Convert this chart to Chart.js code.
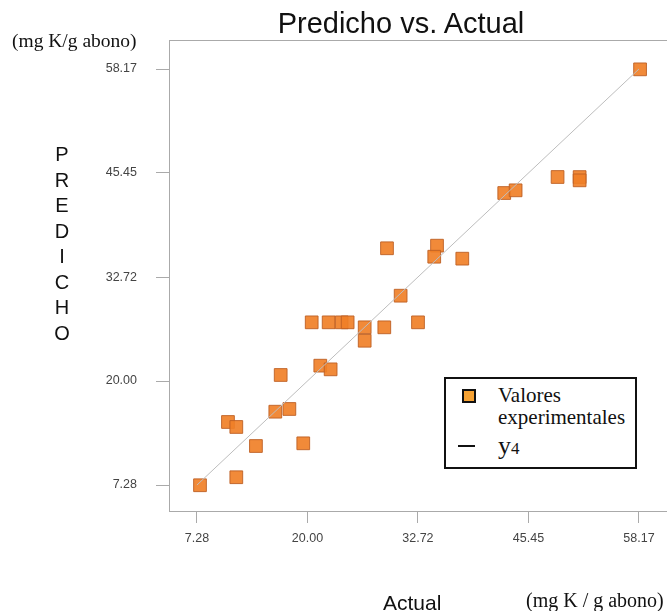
<!DOCTYPE html>
<html>
<head>
<meta charset="utf-8">
<script src="https://cdn.jsdelivr.net/npm/chart.js@4"></script>
<style>
  body { margin: 0; background: #fff; }
  #wrap { position: relative; width: 667px; height: 611px; overflow: hidden; }
  #myChart { position: absolute; left: 0; top: 0; }
  .lbl { position: absolute; white-space: nowrap; color: #111; }
  .sans { font-family: "Liberation Sans", Arial, sans-serif; }
  .serif { font-family: "Liberation Serif", "Times New Roman", serif; }
  #legend { position: absolute; left: 444px; top: 377px; width: 189px; height: 88px;
    border: 2px solid #111; background: #fff; }
</style>
</head>
<body>
<div id="wrap">
  <canvas id="myChart" width="667" height="611"></canvas>
  <div class="lbl sans" style="left:250px;top:7px;width:302px;text-align:center;font-size:29px;">Predicho vs. Actual</div>
  <div class="lbl serif" style="left:12px;top:30px;font-size:19.5px;">(mg K/g abono)</div>
  <div class="lbl sans" style="left:47px;top:142px;width:30px;text-align:center;font-size:20px;line-height:25.5px;white-space:normal;">P<br>R<br>E<br>D<br>I<br>C<br>H<br>O</div>
  <div class="lbl sans" style="left:383px;top:591px;font-size:21px;">Actual</div>
  <div class="lbl serif" style="left:526px;top:589px;font-size:20px;">(mg K / g abono)</div>
  <div id="legend">
    <div style="position:absolute;left:16px;top:10px;width:10px;height:10px;background:#f6a233;border:2px solid #111;"></div>
    <div class="lbl serif" style="left:52px;top:5px;font-size:21px;line-height:22px;">Valores<br>experimentales</div>
    <div style="position:absolute;left:12px;top:66px;width:17px;height:2px;background:#111;"></div>
    <div class="lbl serif" style="left:52px;top:52px;font-size:26px;">y<span style="font-size:17px;">4</span></div>
  </div>
</div>
<script>
// values
const actualVals = [58.30, 48.80, 51.34, 51.34, 42.66, 43.97, 29.16, 34.92, 34.60, 37.83,
  30.73, 20.49, 22.44, 23.94, 24.63, 26.59, 28.85, 32.73, 26.59, 21.48,
  22.67, 16.92, 16.30, 17.92, 10.85, 11.81, 14.07, 19.52, 11.81, 7.63];
const predichoVals = [58.13, 44.96, 44.95, 44.55, 43.00, 43.33, 36.24, 36.56, 35.21, 34.97,
  30.44, 27.18, 27.18, 27.18, 27.18, 26.57, 26.57, 27.18, 24.93, 21.88,
  21.43, 20.74, 16.25, 16.58, 14.99, 14.38, 12.05, 12.38, 8.23, 7.25];
const tickVals = [7.28, 20.00, 32.72, 45.45, 58.17];
const lineVals = [7.28, 58.17];

const points = actualVals.map((x, i) => ({ x: x, y: predichoVals[i] }));
const linePts = lineVals.map(v => ({ x: v, y: v }));

// frame line on top of the plot area
const topBorder = {
  id: "topBorder",
  afterDraw(chart) {
    const a = chart.chartArea;
    const c = chart.ctx;
    c.save();
    c.strokeStyle = "#aaaaaa";
    c.lineWidth = 1;
    c.beginPath();
    c.moveTo(a.left, a.top + 0.5);
    c.lineTo(a.right, a.top + 0.5);
    c.stroke();
    c.restore();
  },
};

function setTicks(scale) {
  scale.ticks = tickVals.map(v => ({ value: v }));
}

const tickFont = { family: "'Liberation Sans', Arial, sans-serif", size: 12.5 };

const ctx = document.getElementById("myChart").getContext("2d");
const chart = new Chart(ctx, {
  type: "scatter",
  data: {
    datasets: [
      {
        type: "line",
        data: linePts,
        borderColor: "#bdbdbd",
        borderWidth: 1,
        pointRadius: 0,
        fill: false,
        order: 0,
      },
      {
        data: points,
        pointStyle: "rect",
        pointRadius: 9,
        backgroundColor: "rgba(240, 128, 40, 0.92)",
        borderColor: "rgba(190, 95, 35, 0.9)",
        borderWidth: 1,
        order: 1,
      },
    ],
  },
  options: {
    responsive: false,
    animation: false,
    events: [],
    layout: { autoPadding: false, padding: { left: 0, top: 40, right: 0, bottom: 0 } },
    plugins: {
      legend: { display: false },
      tooltip: { enabled: false },
      title: { display: false },
    },
    scales: {
      x: {
        type: "linear",
        min: 4.06,
        max: 61.4,
        afterBuildTicks: setTicks,
        afterFit(scale) {
          scale.height = 100;
          scale.paddingLeft = 0;
          scale.paddingRight = 0;
        },
        grid: { drawOnChartArea: false, drawTicks: true, tickLength: 12, color: "#aaaaaa" },
        border: { display: true, color: "#aaaaaa" },
        ticks: {
          padding: 8,
          color: "#444",
          font: tickFont,
          maxRotation: 0,
          callback: v => v.toFixed(2),
        },
      },
      y: {
        type: "linear",
        min: 4.10,
        max: 61.72,
        afterBuildTicks: setTicks,
        afterFit(scale) {
          scale.width = 169;
          scale.paddingTop = 0;
          scale.paddingBottom = 0;
        },
        grid: { drawOnChartArea: false, drawTicks: true, tickLength: 13, color: "#aaaaaa" },
        border: { display: true, color: "#aaaaaa" },
        ticks: {
          padding: 19,
          color: "#444",
          font: tickFont,
          callback: v => v.toFixed(2),
        },
      },
    },
  },
  plugins: [topBorder],
});
</script>
</body>
</html>
